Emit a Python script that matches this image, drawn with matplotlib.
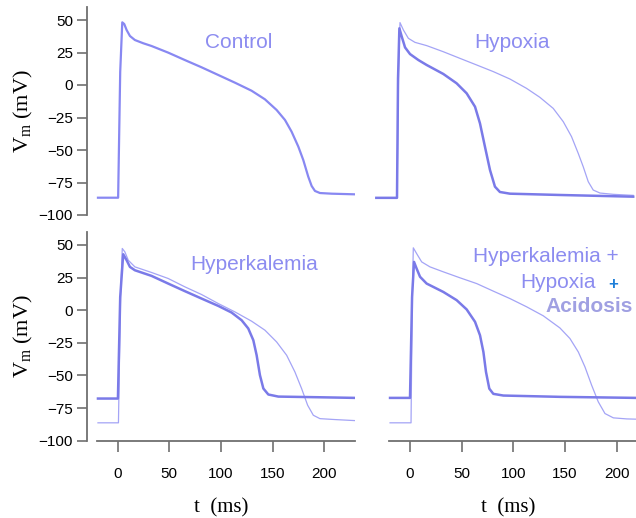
import matplotlib
matplotlib.use("Agg")
import matplotlib.pyplot as plt

# ---------------- data (t in ms, V in mV) ----------------
ctrl_t = [-19, 0.5, 2.5, 4.5, 6.4, 8.7, 11.9, 16.7, 24.8, 32.8, 48.9, 65, 81.2, 97.3, 113.4, 129.5,
          142.4, 153.7, 161.8, 168.2, 174.7, 179.5, 184.3, 187.6, 190.8, 195.6, 206.9, 229.5]
ctrl_v = [-86.7, -86.7, 10, 48.2, 46.9, 42.3, 37.7, 34.6, 32.1, 30, 24.9, 19.2, 13.6, 7.7, 1.8, -4.4,
          -11, -19.2, -26.9, -35.9, -47.4, -57.7, -70.5, -77.7, -81.5, -83.1, -83.6, -84.1]

hyp_thin_t = [-21, -1, 0.5, 1.9, 5.2, 10, 16.4, 27.7, 43.8, 59.9, 76.1, 92.2, 108.3, 124.4, 137.3,
              150.2, 159.9, 167.9, 174.4, 179.2, 184.1, 188.9, 195.4, 208.3, 227.6]
hyp_thin_v = [-86.8, -86.8, 10, 48, 42.3, 35.9, 32.8, 30.3, 25.6, 20.5, 15.4, 10.3, 4.6, -2.6, -9.5,
              -18, -28.2, -39.7, -52.6, -62.8, -74.4, -80.8, -83.1, -84.1, -84.9]
hyp_thick_t = [-21, -1, 0, 1.3, 3.6, 6.8, 11.6, 19.7, 27.7, 43.8, 56.7, 66.4, 74.5, 79.3, 84.1, 89,
               93.8, 98.6, 108.3, 156.7, 227.6]
hyp_thick_v = [-86.8, -86.8, 5, 43.6, 37.2, 28.9, 23.8, 19.2, 15.4, 8.5, 1.3, -6.4, -16.7, -29.5, -47.4,
               -65.4, -78.2, -82.3, -83.6, -84.6, -85.9]

hk_thin_t = [-19, 0.8, 2.8, 4.5, 7, 10.3, 16.7, 32.8, 48.9, 65, 81.2, 97.3, 113.4, 129.5, 142.4, 153.7,
             163.4, 171.4, 177.9, 183.7, 189.2, 195.6, 210.1, 229.5]
hk_thin_v = [-86.3, -86.3, 10, 47.3, 44.7, 38.3, 33.2, 28.9, 24.3, 17.9, 12, 5.1, -1.3, -8.4, -15.3, -24.3,
             -34.5, -47.3, -60.1, -72.8, -80.5, -83.1, -83.8, -84.6]
hk_thick_t = [-19, 0.3, 2.5, 5.4, 8.7, 11.9, 16.7, 32.8, 48.9, 65, 81.2, 97.3, 110.2, 119.9, 126.3,
              131.2, 134.4, 137.6, 140.9, 145.7, 155.4, 194, 229.5]
hk_thick_v = [-67.7, -67.7, 10, 42.9, 38.3, 33.2, 30.6, 26.3, 20.4, 14.6, 8.9, 3.3, -1.8, -7.7, -14,
              -23, -34.5, -49.8, -60, -64.6, -66.2, -66.7, -67.2]

comb_thin_t = [-19.3, 1.0, 2.2, 3.2, 6.4, 11.3, 19.3, 32.2, 48.4, 64.5, 80.6, 96.7, 112.8, 128.9, 145,
               154.7, 162.8, 169.2, 175.7, 182.1, 188.6, 196.7, 209.6, 218.6]
comb_thin_v = [-86.3, -86.3, 10, 47.8, 43.4, 37, 33.2, 29.4, 24.8, 20.4, 14.6, 8.9, 2.6, -4.3, -13.6,
               -21.7, -32, -43.4, -57.5, -70.2, -79.2, -82.5, -83.3, -83.5]
comb_thick_t = [-19.3, 0, 2, 3.9, 6.4, 9.7, 16.1, 32.2, 45.1, 54.8, 62.9, 67.7, 71, 73.5, 76.7, 80.6,
                90.3, 145, 218.6]
comb_thick_v = [-67.2, -67.2, 10, 37, 31.9, 25.6, 20.4, 14, 7.7, 0.6, -8.9, -19.2, -32, -47.3, -60.1,
                -64.1, -65.4, -66.4, -67.2]

y_ticks = [-100, -75, -50, -25, 0, 25, 50]
x_ticks = [0, 50, 100, 150, 200]

# ---------------- style ----------------
W, H = 636, 518
fig = plt.figure(figsize=(W / 100, H / 100), dpi=100)
sans = ['Liberation Sans', 'DejaVu Sans']
serif = ['Liberation Serif', 'DejaVu Serif']
plt.rcParams['mathtext.fontset'] = 'custom'
plt.rcParams['mathtext.rm'] = 'Liberation Serif'

C_THICK = '#7a7ae8'
C_THIN = '#a4a4f6'
C_CTRL = '#8888f2'
C_TEXT = '#8c8cf0'
GRAY = '#707070'


def px_axes(x0, x1, y_top, y_bot):
    return fig.add_axes([x0 / W, 1 - y_bot / H, (x1 - x0) / W, (y_bot - y_top) / H])


def style(ax, xlim, ylim, left=False, bottom=False, xb=None):
    ax.set_xlim(*xlim)
    ax.set_ylim(*ylim)
    for s in ['top', 'right']:
        ax.spines[s].set_visible(False)
    ax.spines['left'].set_visible(left)
    ax.spines['bottom'].set_visible(bottom)
    for s in ['left', 'bottom']:
        ax.spines[s].set_color(GRAY)
        ax.spines[s].set_linewidth(1.3)
    ax.patch.set_alpha(0)
    if left:
        ax.set_yticks(y_ticks)
        ax.tick_params(axis='y', direction='out', length=7, width=1.2, color=GRAY,
                       labelsize=11, pad=3)
        for lb in ax.get_yticklabels():
            lb.set_family(sans)
        ax.set_ylabel(r'$\mathregular{V_m}$ (mV)', fontsize=16, family=serif, labelpad=3)
    else:
        ax.set_yticks([])
    if bottom:
        ax.set_xticks(x_ticks)
        ax.spines['bottom'].set_bounds(*xb)
        ax.tick_params(axis='x', direction='out', length=8, width=1.2, color=GRAY,
                       labelsize=11, pad=11)
        for lb in ax.get_xticklabels():
            lb.set_family(sans)
        ax.set_xlabel('t  (ms)', fontsize=15, family=serif, labelpad=12)
    else:
        ax.set_xticks([])


kw_thin = dict(color=C_THIN, lw=0.9, solid_joinstyle='round')
kw_thick = dict(color=C_THICK, lw=1.8, solid_joinstyle='round')

# top-left: Control
ax1 = px_axes(87, 355, 7, 215)
style(ax1, (-29.6, 229.5), (-100, 60), left=True)
ax1.plot(ctrl_t, ctrl_v, color=C_CTRL, lw=1.6, solid_joinstyle='round')

# top-right: Hypoxia
ax2 = px_axes(375.3, 636, 7, 215)
style(ax2, (-22, 230.3), (-100, 60))
ax2.plot(hyp_thin_t, hyp_thin_v, **kw_thin)
ax2.plot(hyp_thick_t, hyp_thick_v, **kw_thick)

# bottom-left: Hyperkalemia
ax3 = px_axes(87, 355, 231.9, 440.7)
style(ax3, (-29.6, 229.5), (-100, 60), left=True, bottom=True, xb=(-20, 229.5))
ax3.plot(hk_thin_t, hk_thin_v, **kw_thin)
ax3.plot(hk_thick_t, hk_thick_v, **kw_thick)

# bottom-right: combined
ax4 = px_axes(379.4, 636, 231.9, 440.7)
style(ax4, (-29.6, 218.6), (-100, 60), bottom=True, xb=(-20, 218.6))
ax4.plot(comb_thin_t, comb_thin_v, **kw_thin)
ax4.plot(comb_thick_t, comb_thick_v, **kw_thick)


def ptext(x, y, s, **kw):
    fig.text(x / W, 1 - y / H, s, family=sans, **kw)


ptext(239, 43, 'Control', fontsize=15, color=C_TEXT, ha='center', va='center')
ptext(512, 42, 'Hypoxia', fontsize=15, color=C_TEXT, ha='center', va='center')
ptext(254, 264, 'Hyperkalemia', fontsize=15, color=C_TEXT, ha='center', va='center')
ptext(619, 257, 'Hyperkalemia +', fontsize=15, color=C_TEXT, ha='right', va='center')
ptext(596, 283, 'Hypoxia', fontsize=15, color=C_TEXT, ha='right', va='center')
ptext(613, 284, '+', fontsize=12, color='#1f7fd8', ha='center', va='center', fontweight='bold')
ptext(633, 307, 'Acidosis', fontsize=15, color='#a0a0e2', ha='right', va='center', fontweight='bold')

fig.savefig('out.png', dpi=100)
